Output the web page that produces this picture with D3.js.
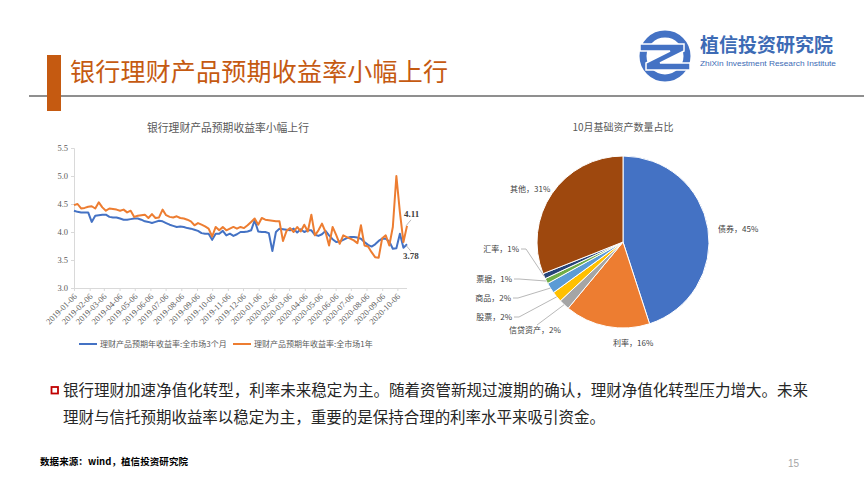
<!DOCTYPE html>
<html><head><meta charset="utf-8">
<script src="https://cdn.jsdelivr.net/npm/d3@7"></script>
<style>body{margin:0;background:#fff}svg{display:block}</style>
</head><body>
<svg id="c" width="864" height="483"></svg>
<script>
// ---------- DATA ----------
const startDate = "2019-01-06";
const xTickLabels = ["2019-01-06","2019-02-06","2019-03-06","2019-04-06","2019-05-06","2019-06-06","2019-07-06","2019-08-06","2019-09-06","2019-10-06","2019-11-06","2019-12-06","2020-01-06","2020-02-06","2020-03-06","2020-04-06","2020-05-06","2020-06-06","2020-07-06","2020-08-06","2020-09-06","2020-10-06"];
const yTicks = [3.0, 3.5, 4.0, 4.5, 5.0, 5.5];
const seriesNames = ["理财产品预期年收益率:全市场3个月","理财产品预期年收益率:全市场1年"];
const yield3m = [4.38,4.36,4.35,4.35,4.35,4.18,4.29,4.30,4.31,4.31,4.27,4.26,4.26,4.24,4.22,4.22,4.23,4.24,4.24,4.22,
4.19,4.18,4.16,4.18,4.20,4.19,4.16,4.13,4.11,4.09,4.10,4.09,4.07,4.06,4.04,4.02,3.98,3.97,3.97,3.86,
3.97,3.97,4.02,3.94,3.97,3.93,3.96,4.00,4.00,4.01,4.03,4.21,4.01,4.00,4.00,3.98,3.66,4.00,4.06,4.05,
4.04,4.03,4.06,3.99,4.05,4.00,4.03,4.03,3.95,3.93,3.96,4.02,3.94,3.87,3.82,3.83,3.86,3.89,3.91,3.91,
3.90,3.88,3.82,3.77,3.74,3.78,3.84,3.88,3.88,3.83,3.70,3.71,3.97,3.72,3.78];
const yield1y = [4.48,4.50,4.42,4.43,4.45,4.46,4.42,4.53,4.44,4.38,4.42,4.41,4.40,4.38,4.40,4.35,4.38,4.27,4.29,4.30,
4.31,4.25,4.32,4.25,4.26,4.40,4.30,4.27,4.26,4.28,4.25,4.24,4.22,4.19,4.12,4.16,4.13,4.10,4.06,3.92,
4.09,4.03,4.09,4.03,4.06,4.09,4.06,4.09,4.07,4.12,4.18,4.24,4.13,4.25,4.22,4.21,4.20,4.19,4.19,3.84,
4.02,4.07,4.00,4.09,4.01,4.13,4.01,4.31,3.94,4.03,4.15,4.00,3.76,4.09,3.95,3.79,3.94,3.91,3.88,3.85,
3.80,4.12,3.76,3.74,3.64,3.55,3.54,3.89,3.94,3.76,4.09,5.00,4.35,3.82,4.11];
const pieLabels = ["债券","利率","信贷资产","股票","商品","票据","汇率","其他"];
const pieValues = [45,16,2,2,2,1,1,31];
const pieColors = ["#4472C4","#ED7D31","#A5A5A5","#FFC000","#5B9BD5","#70AD47","#264478","#9E480E"];

// ---------- LAYOUT ----------
const svg = d3.select("#c");
const CJK = "'Noto Sans CJK SC','Noto Sans',sans-serif";
const SERIF = "'Liberation Serif','DejaVu Serif',serif";

// header
svg.append("line").attr("x1",29).attr("x2",864).attr("y1",96).attr("y2",96)
  .attr("stroke","#8f8f8f").attr("stroke-width",2.2);
svg.append("rect").attr("x",47).attr("y",55).attr("width",14).attr("height",56).attr("fill","#C55A11");
svg.append("text").attr("x",70).attr("y",81).attr("font-family",CJK).attr("font-size",25)
  .attr("fill","#C55A11").attr("textLength",378).attr("lengthAdjust","spacing").text("银行理财产品预期收益率小幅上行");

// logo
const logo = svg.append("g");
logo.append("circle").attr("cx",665).attr("cy",56).attr("r",22).attr("fill","none")
  .attr("stroke","#4472C4").attr("stroke-width",7);
logo.append("path").attr("d","M640,44 L684,44 L684,51 L660,63 L690,63 L690,70 L646,70 L646,63 L670,51 L640,51 Z")
  .attr("fill","#4472C4").attr("stroke","#fff").attr("stroke-width",1.5);
logo.append("text").attr("x",700).attr("y",52).attr("font-family",CJK).attr("font-weight","bold")
  .attr("font-size",19).attr("fill","#3D6BB5").attr("textLength",133).attr("lengthAdjust","spacing").text("植信投资研究院");
logo.append("text").attr("x",700).attr("y",66).attr("font-family","'Liberation Sans',Arial,sans-serif")
  .attr("font-size",7.5).attr("fill","#3D6BB5").attr("textLength",136).attr("lengthAdjust","spacingAndGlyphs").text("ZhiXin Investment Research Institute");

// ---------- LINE CHART ----------
const parse = d3.timeParse("%Y-%m-%d");
const d0 = parse(startDate);
const dates = yield3m.map((_, i) => d3.timeWeek.offset(d0, i));
const x = d3.scaleTime().domain([d0, dates[dates.length-1]]).range([74, 407]);
const y = d3.scaleLinear().domain([3, 5.5]).range([288, 148]);

svg.append("text").attr("x",228).attr("y",132).attr("text-anchor","middle").attr("font-family",CJK)
  .attr("font-size",10.8).attr("fill","#595959").text("银行理财产品预期收益率小幅上行");

const yAxis = svg.append("g").attr("transform","translate(74,0)")
  .call(d3.axisLeft(y).tickValues(yTicks).tickFormat(d3.format(".1f")).tickSize(3).tickPadding(3));
yAxis.select(".domain").attr("stroke","#d9d9d9");
yAxis.selectAll(".tick line").attr("stroke","#d9d9d9");
yAxis.selectAll("text").style("font-family",SERIF).style("font-size","8.5px").attr("fill","#595959");

const tickDates = xTickLabels.map(parse);
const xAxis = svg.append("g").attr("transform","translate(0,288)")
  .call(d3.axisBottom(x).tickValues(tickDates).tickFormat(d3.timeFormat("%Y-%m-%d")).tickSize(3).tickSizeOuter(0));
xAxis.select(".domain").attr("stroke","#d9d9d9").attr("d","M74,0.5H407");
xAxis.selectAll(".tick line").attr("stroke","#d9d9d9");
xAxis.selectAll("text").style("font-family",SERIF).style("font-size","8.5px").attr("fill","#595959")
  .attr("text-anchor","end").attr("dy",0).attr("y",0)
  .attr("transform","translate(3,9) rotate(-45)");

const line = d3.line().x((d,i)=>x(dates[i])).y(d=>y(d));
svg.append("path").datum(yield3m).attr("d",line).attr("fill","none").attr("stroke","#4472C4")
  .attr("stroke-width",2).attr("stroke-linejoin","round");
svg.append("path").datum(yield1y).attr("d",line).attr("fill","none").attr("stroke","#ED7D31")
  .attr("stroke-width",2).attr("stroke-linejoin","round");

// end labels
const lastI = dates.length-1;
const ex = x(dates[lastI]);
svg.append("line").attr("x1",ex-1).attr("y1",y(yield1y[lastI])).attr("x2",ex+4).attr("y2",y(yield1y[lastI])-6)
  .attr("stroke","#a6a6a6").attr("stroke-width",0.8);
svg.append("text").attr("x",ex-3).attr("y",y(yield1y[lastI])-9).attr("font-family",SERIF).attr("font-weight","bold")
  .attr("font-size",9).attr("fill","#404040").text(d3.format(".2f")(yield1y[lastI]));
svg.append("line").attr("x1",ex-1).attr("y1",y(yield3m[lastI])+1).attr("x2",ex+4).attr("y2",y(yield3m[lastI])+7)
  .attr("stroke","#a6a6a6").attr("stroke-width",0.8);
svg.append("text").attr("x",ex-4).attr("y",y(yield3m[lastI])+15).attr("font-family",SERIF).attr("font-weight","bold")
  .attr("font-size",9).attr("fill","#404040").text(d3.format(".2f")(yield3m[lastI]));

// legend
const leg = [{x:79, c:"#4472C4"},{x:233, c:"#ED7D31"}];
leg.forEach((l,i)=>{
  svg.append("line").attr("x1",l.x).attr("x2",l.x+18).attr("y1",344).attr("y2",344).attr("stroke",l.c).attr("stroke-width",2);
  svg.append("text").attr("x",l.x+21).attr("y",347).attr("font-family",CJK).attr("font-size",8)
    .attr("fill","#595959").text(seriesNames[i]);
});

// ---------- PIE ----------
const cx = 623, cy = 242, R = 86;
svg.append("text").attr("x",cx).attr("y",131).attr("text-anchor","middle").attr("font-family",CJK)
  .attr("font-size",10).attr("fill","#595959").text("10月基础资产数量占比");
const pie = d3.pie().sort(null).value(d=>d);
const arcs = pie(pieValues);
const arc = d3.arc().innerRadius(0).outerRadius(R);
const edge = d3.arc().innerRadius(R).outerRadius(R);
const pg = svg.append("g").attr("transform",`translate(${cx},${cy})`);
pg.selectAll("path").data(arcs).join("path").attr("d",arc)
  .attr("fill",(d,i)=>pieColors[i]).attr("stroke","#fff").attr("stroke-width",1);

const labelPos = [
  {x:718, y:229, a:"start", lead:false},
  {x:613, y:343, a:"start", lead:false},
  {x:509, y:330, a:"start", lead:true, lx:537, ly:325},
  {x:512, y:317, a:"end", lead:true},
  {x:511, y:298, a:"end", lead:true},
  {x:512, y:279, a:"end", lead:true},
  {x:519, y:249, a:"end", lead:true},
  {x:510, y:189, a:"start", lead:false}
];
arcs.forEach((d,i)=>{
  const p = labelPos[i];
  svg.append("text").attr("x",p.x).attr("y",p.y).attr("dy","0.35em").attr("text-anchor",p.a)
    .attr("font-family",CJK).attr("font-size",8).attr("fill","#404040")
    .text(pieLabels[i] + "，" + d3.format(".0f")(d.value) + "%");
  if (p.lead) {
    const c = edge.centroid(d);
    const tx = cx + c[0], ty = cy + c[1];
    let pts;
    if (p.a === "end") pts = [[p.x+2, p.y],[p.x+7, p.y],[tx, ty]];
    else pts = [[p.lx, p.ly],[tx, ty]];
    svg.append("path").attr("d", d3.line()(pts)).attr("fill","none").attr("stroke","#a6a6a6").attr("stroke-width",0.8);
  }
});

// ---------- TEXT ----------
svg.append("rect").attr("x",51.5).attr("y",387).attr("width",6.5).attr("height",6.5)
  .attr("fill","#fff").attr("stroke","#C00000").attr("stroke-width",1.8);
svg.append("text").attr("x",63).attr("y",396).attr("font-family",CJK).attr("font-size",15.5).attr("fill","#262626")
  .attr("textLength",745).attr("lengthAdjust","spacing")
  .text("银行理财加速净值化转型，利率未来稳定为主。随着资管新规过渡期的确认，理财净值化转型压力增大。未来");
svg.append("text").attr("x",63).attr("y",423).attr("font-family",CJK).attr("font-size",15.5).attr("fill","#262626")
  .attr("textLength",542).attr("lengthAdjust","spacing")
  .text("理财与信托预期收益率以稳定为主，重要的是保持合理的利率水平来吸引资金。");
svg.append("text").attr("x",40).attr("y",465).attr("font-family",CJK).attr("font-weight","bold").attr("font-size",9.5)
  .attr("fill","#000").attr("textLength",148).attr("lengthAdjust","spacing").text("数据来源：wind，植信投资研究院");
svg.append("text").attr("x",788).attr("y",467).attr("font-family","'Liberation Sans',sans-serif").attr("font-size",10)
  .attr("fill","#a6a6a6").text("15");
</script>
</body></html>
